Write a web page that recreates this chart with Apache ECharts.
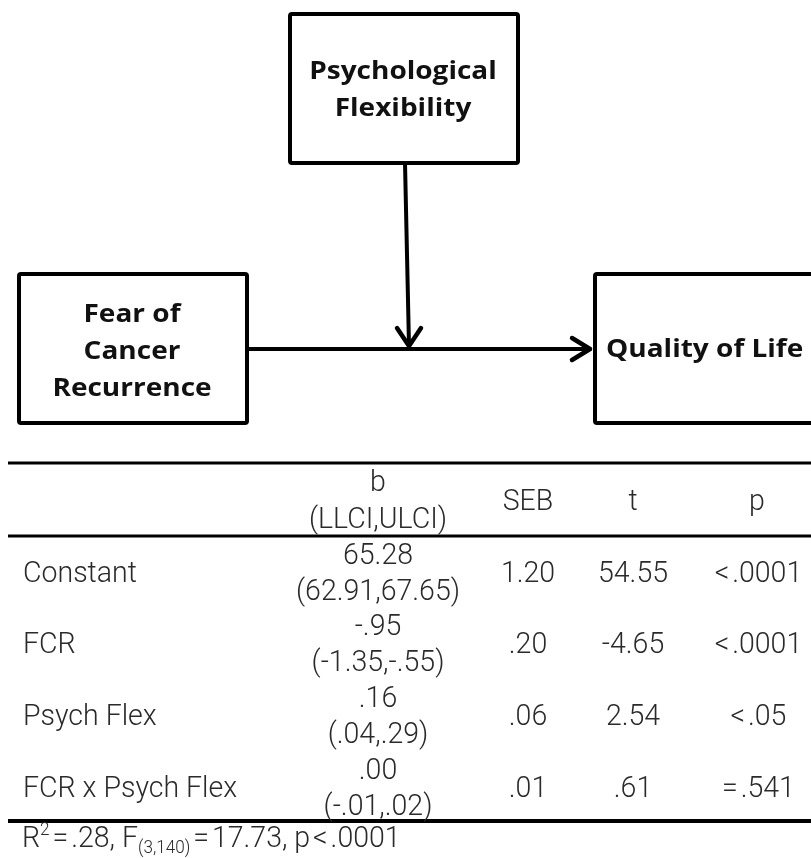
<!DOCTYPE html>
<html>
<head>
<meta charset="utf-8">
<script src="https://cdn.jsdelivr.net/npm/echarts@6/dist/echarts.min.js"></script>
<style>
html,body{margin:0;padding:0;background:#fff;}
#chart{width:811px;height:858px;}
</style>
</head>
<body>
<div id="chart"></div>
<script>
// ---- data ----
const moderatorLabel = ['Psychological', 'Flexibility'];
const predictorLabel = ['Fear of', 'Cancer', 'Recurrence'];
const outcomeLabel = ['Quality of Life'];

const headerLabels = ['b', 'SEB', 't', 'p'];
const headerSub = '(LLCI,ULCI)';
const rowLabels = ['Constant', 'FCR', 'Psych Flex', 'FCR x Psych Flex'];
const bValues = ['65.28', '-.95', '.16', '.00'];
const ciValues = ['(62.91,67.65)', '(-1.35,-.55)', '(.04,.29)', '(-.01,.02)'];
const sebValues = ['1.20', '.20', '.06', '.01'];
const tValues = ['54.55', '-4.65', '2.54', '.61'];
const pValues = ['<.0001', '<.0001', '<.05', '=.541'];
const fitR2 = '.28';
const fitDf = '(3,140)';
const fitF = '17.73';
const fitP = '.0001';

// ---- layout ----
const chart = echarts.init(document.getElementById('chart'), null, {renderer: 'canvas'});
const G = [];
const boxFont = {fontFamily: 'Open Sans', fontWeight: 'bold', fontSize: 28, fill: '#111'};
const tabFont = {fontFamily: 'Roboto', fontWeight: 300, fontSize: 30, fill: '#2a2a2a'};
const TSX = 0.95;   // horizontal squeeze for table text
const BSY = 0.88;   // vertical squeeze for box text
const sp = '\u200A';

function box(x, y, w, h) {
  G.push({type: 'rect', shape: {x: x, y: y, width: w, height: h, r: 2},
    style: {fill: '#fff', stroke: '#000', lineWidth: 4}, z: 1});
}
function txt(s, x, y, font, align, sx, sy) {
  G.push({type: 'text', x: x, y: y, z: 5, scaleX: sx || 1, scaleY: sy || 1,
    style: Object.assign({text: s, align: align || 'center', verticalAlign: 'middle'}, font)});
}
function line(pts, w) {
  G.push({type: 'polyline', shape: {points: pts}, z: 3,
    style: {stroke: '#000', lineWidth: w || 4, fill: null, lineCap: 'round', lineJoin: 'round'}});
}
const spaced = s => s.replace(/([<=])/g, sp + '$1' + sp);

// boxes
box(290, 14, 228, 149);
moderatorLabel.forEach((s, i) => txt(s, 403, 72 + i * 37, boxFont, 'center', 1, BSY));
box(19, 274, 228, 149);
predictorLabel.forEach((s, i) => txt(s, 132, 315 + i * 37, boxFont, 'center', 1, BSY));
box(595, 274, 240, 149);
txt(outcomeLabel[0], 606, 350, boxFont, 'left', 1, BSY);

// arrows
line([[405, 163], [409, 346]]);
line([[397, 328], [409, 346], [421, 328]], 4.5);
line([[247, 349], [590, 349]]);
line([[572, 338], [590, 349], [572, 360]], 4.5);

// table rules
const rule = (y, w) => G.push({type: 'line', shape: {x1: 8, y1: y, x2: 811, y2: y}, z: 2,
  style: {stroke: '#000', lineWidth: w}});
rule(463, 3); rule(536, 3); rule(821, 4);

const colX = [378, 528, 633, 757];
// header
txt(headerLabels[0], colX[0], 483, tabFont, 'center', TSX);
txt(headerSub, colX[0], 520, tabFont, 'center', TSX);
for (let c = 1; c < 4; c++) txt(headerLabels[c], colX[c], 502, tabFont, 'center', TSX);

const rowY = [574, 645, 717, 789];
rowLabels.forEach((lab, r) => {
  const y = rowY[r];
  txt(lab, 23, y, tabFont, 'left', TSX);
  txt(bValues[r], colX[0], y - 18, tabFont, 'center', TSX);
  txt(ciValues[r], colX[0], y + 18, tabFont, 'center', TSX);
  txt(sebValues[r], colX[1], y, tabFont, 'center', TSX);
  txt(tValues[r], colX[2], y, tabFont, 'center', TSX);
  txt(spaced(pValues[r]), colX[3], y, tabFont, 'center', TSX);
});

// footnote
G.push({type: 'text', x: 22, y: 839, z: 5, scaleX: TSX, style: {
  text: '{n|R}{sup|2}{n|' + spaced('=') + fitR2 + ', F}{sub|' + fitDf + '}{n|' + spaced('=') + fitF +
        ', p' + spaced('<') + fitP + '}',
  verticalAlign: 'middle', align: 'left',
  rich: {
    n: Object.assign({}, tabFont, {lineHeight: 36}),
    sup: Object.assign({}, tabFont, {fontSize: 18, verticalAlign: 'top', lineHeight: 36}),
    sub: Object.assign({}, tabFont, {fontSize: 18, verticalAlign: 'bottom', lineHeight: 36})
  }
}});

chart.setOption({backgroundColor: '#fff', animation: false, graphic: {elements: G}});
</script>
</body>
</html>
